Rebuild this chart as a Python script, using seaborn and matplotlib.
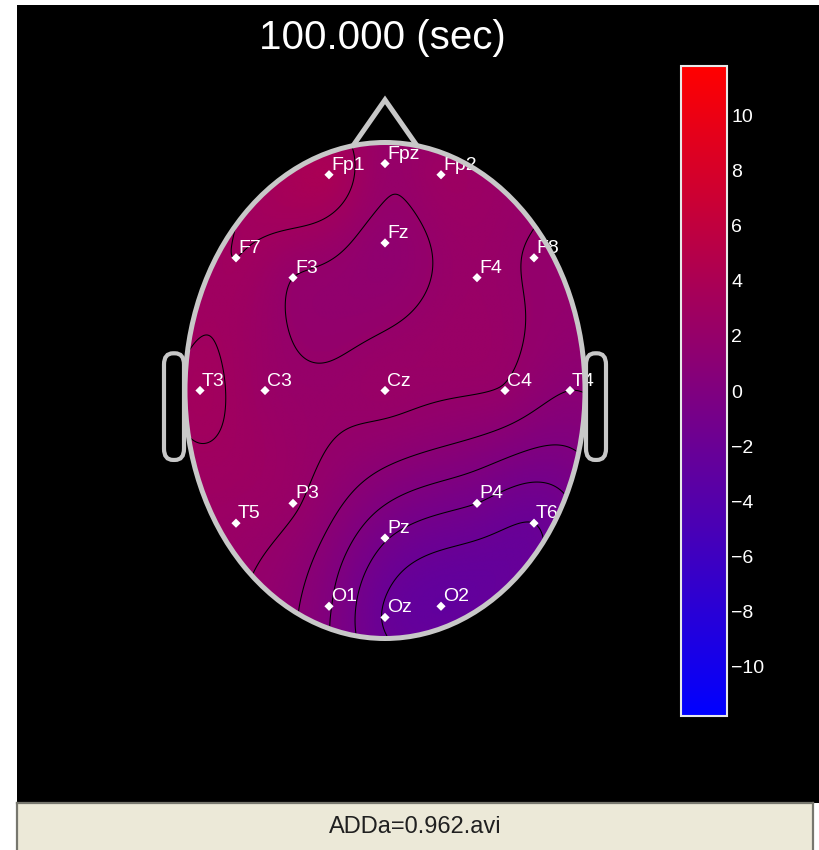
import numpy as np
import matplotlib
matplotlib.use("Agg")
import matplotlib.pyplot as plt
from matplotlib.patches import Ellipse, FancyBboxPatch
from matplotlib.cm import ScalarMappable
from matplotlib.colors import Normalize
import seaborn as sns

# Electrode names (10-20 system) and positions on the unit head
electrodes = ["Fp1", "Fpz", "Fp2", "F7", "F3", "Fz", "F4", "F8",
              "T3", "C3", "Cz", "C4", "T4",
              "T5", "P3", "Pz", "P4", "T6", "O1", "Oz", "O2"]
pos_x = [-0.28, 0.0, 0.28, -0.745, -0.46, 0.0, 0.46, 0.745,
         -0.925, -0.60, 0.0, 0.60, 0.925,
         -0.745, -0.46, 0.0, 0.46, 0.745, -0.28, 0.0, 0.28]
pos_y = [0.87, 0.915, 0.87, 0.535, 0.455, 0.595, 0.455, 0.535,
         0.0, 0.0, 0.0, 0.0, 0.0,
         -0.535, -0.455, -0.595, -0.455, -0.535, -0.87, -0.915, -0.87]

# Potential at each electrode (uV) at t = 100 s
potential = [3.8, 2.15, 2.6, 3.0, 2.0, 1.5, 2.3, 1.9,
             3.2, 2.4, 2.3, 1.9, 1.0,
             2.4, 2.15, -0.9, -1.0, -2.0, 0.1, -2.1, -2.7]

contour_levels = [-3, -2, -1, 0, 1, 2, 3]
cbar_ticks = [-10, -8, -6, -4, -2, 0, 2, 4, 6, 8, 10]
vmin, vmax = -11.8, 11.8
title_text = "100.000 (sec)"
footer_text = "ADDa=0.962.avi"

sns.set_theme(style="dark", rc={"axes.facecolor": "black",
                                "figure.facecolor": "white"})
plt.rcParams["font.family"] = ["Liberation Sans", "DejaVu Sans"]

W, H = 819, 850
fig = plt.figure(figsize=(W / 100, H / 100), dpi=100)

# main black panel; head units: 200 px per unit in x, 248 px per unit in y
cx, cy, sx, sy = 385.0, 390.5, 200.0, 248.0
px0, px1, pyt, pyb = 17, 819, 5, 803
ax = fig.add_axes([px0 / W, 1 - pyb / H, (px1 - px0) / W, (pyb - pyt) / H])
ax.set_facecolor("black")
ax.set_xlim((px0 - cx) / sx, (px1 - cx) / sx)
ax.set_ylim((cy - pyb) / sy, (cy - pyt) / sy)
ax.set_xticks([])
ax.set_yticks([])
for s in ax.spines.values():
    s.set_visible(False)

# biharmonic spline surface through the electrode potentials
ex = np.asarray(pos_x)
ey = np.asarray(pos_y)
ev = np.asarray(potential)


def green(r):
    out = np.zeros_like(r)
    m = r > 0
    out[m] = r[m] ** 2 * (np.log(r[m]) - 1.0)
    return out


D = np.hypot(ex[:, None] - ex[None, :], ey[:, None] - ey[None, :])
weights = np.linalg.solve(green(D), ev)
gx = np.linspace(-1.05, 1.05, 360)
gy = np.linspace(-1.05, 1.05, 360)
GX, GY = np.meshgrid(gx, gy)
R = np.hypot(GX[..., None] - ex, GY[..., None] - ey)
Z = (green(R) * weights).sum(axis=-1)

cmap = sns.blend_palette(["#0000ff", "#ff0000"], n_colors=256, as_cmap=True)

head_clip = Ellipse((0, 0), 2.0, 2.0, transform=ax.transData)
im = ax.imshow(Z, extent=(gx[0], gx[-1], gy[0], gy[-1]), origin="lower",
               cmap=cmap, vmin=vmin, vmax=vmax, aspect="auto",
               interpolation="bilinear", zorder=1)
im.set_clip_path(head_clip)
cs = ax.contour(GX, GY, Z, levels=contour_levels, colors="black",
                linewidths=0.75, linestyles="solid", zorder=2)
cs.set_clip_path(head_clip)

# electrodes
sns.scatterplot(x=pos_x, y=pos_y, marker="D", s=22, color="white",
                edgecolor="none", ax=ax, zorder=4, legend=False)
for name, x, y in zip(electrodes, pos_x, pos_y):
    ax.annotate(name, (x, y), xytext=(1.4, 3.6), textcoords="offset points",
                ha="left", va="baseline", color="white", fontsize=14,
                zorder=3)

# head outline, nose and ears
outline = "#c8c8c8"
lw = 3.6
ax.add_patch(Ellipse((0, 0), 2.0, 2.0, fill=False, ec=outline, lw=lw,
                     zorder=5))
ax.plot([-0.16, 0.0, 0.16], [0.987, 1.172, 0.987], color=outline, lw=lw,
        solid_joinstyle="miter", zorder=5)
for x0 in (-1.105, 1.005):
    ax.add_patch(FancyBboxPatch((x0, -0.28), 0.10, 0.43,
                                boxstyle="round,pad=0,rounding_size=0.045",
                                fill=False, ec=outline, lw=3.0, zorder=5))

fig.text(382 / W, 1 - 38 / H, title_text, color="white", fontsize=29,
         ha="center", va="center")

# colour bar
cax = fig.add_axes([681 / W, 1 - 716 / H, 46 / W, 650 / H])
sm = ScalarMappable(norm=Normalize(vmin=vmin, vmax=vmax), cmap=cmap)
cb = fig.colorbar(sm, cax=cax, ticks=cbar_ticks)
cb.minorticks_off()
cb.outline.set_edgecolor("#e8e8e8")
cb.outline.set_linewidth(1.5)
cax.tick_params(axis="y", which="major", direction="in", left=True,
                right=True, length=7, width=1.2, color="#d8d8d8",
                labelcolor="white", labelsize=14, pad=3)

# footer bar
fax = fig.add_axes([17 / W, 0, (813 - 17) / W, (850 - 803) / H])
fax.set_facecolor("#ece9d8")
fax.set_xticks([])
fax.set_yticks([])
for side, s in fax.spines.items():
    s.set_color("#77776e")
    s.set_linewidth(1.6)
fax.spines["bottom"].set_visible(False)
fax.text(0.5, 0.48, footer_text, transform=fax.transAxes, ha="center",
         va="center", fontsize=17, color="#202020")

fig.savefig("out.png", dpi=100, facecolor="white")
